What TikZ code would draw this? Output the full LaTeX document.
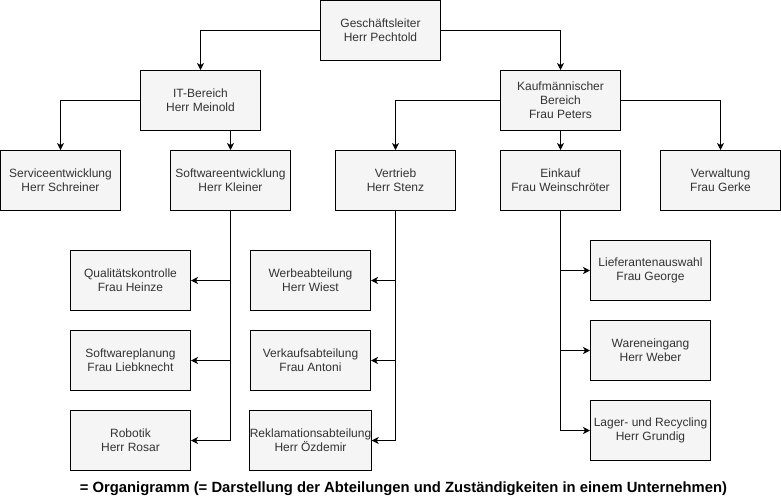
\documentclass[tikz,border=0pt]{standalone}
\usepackage{fontspec}
\setmainfont{Liberation Sans}
\usetikzlibrary{arrows.meta}
\definecolor{boxfill}{HTML}{F5F5F5}
\definecolor{boxtext}{HTML}{333333}
\tikzset{
  box/.style={draw=black, line width=1pt, fill=boxfill, minimum width=120pt, minimum height=60pt,
    inner sep=0pt, align=center, text=boxtext, font=\fontsize{12}{14}\selectfont},
  conn/.style={line width=1pt, -{Stealth[length=7pt,width=7pt,inset=2pt]}}
}
\begin{document}
\begin{tikzpicture}[x=1pt,y=-1pt]
\useasboundingbox (0,0) rectangle (781,499);
\node[box] (gl) at (380.5,30.5) {Geschäftsleiter\\Herr Pechtold};
\node[box] (it) at (200.5,100.5) {IT-Bereich\\Herr Meinold};
\node[box] (kb) at (560.5,100.5) {Kaufmännischer\\Bereich\\Frau Peters};
\node[box] (se) at (60.5,180.5) {Serviceentwicklung\\Herr Schreiner};
\node[box] (sw) at (230.5,180.5) {Softwareentwicklung\\Herr Kleiner};
\node[box] (vt) at (395.5,180.5) {Vertrieb\\Herr Stenz};
\node[box] (ek) at (560.5,180.5) {Einkauf\\Frau Weinschröter};
\node[box] (vw) at (720.5,180.5) {Verwaltung\\Frau Gerke};
\node[box] (qk) at (130.5,280.5) {Qualitätskontrolle\\Frau Heinze};
\node[box] (sp) at (130.5,360.5) {Softwareplanung\\Frau Liebknecht};
\node[box] (rb) at (130.5,440.5) {Robotik\\Herr Rosar};
\node[box] (wb) at (310.5,280.5) {Werbeabteilung\\Herr Wiest};
\node[box] (vk) at (310.5,360.5) {Verkaufsabteilung\\Frau Antoni};
\node[box] (rk) at (310.5,440.5) {Reklamationsabteilung\\Herr Özdemir};
\node[box] (la) at (650.5,270.5) {Lieferantenauswahl\\Frau George};
\node[box] (we) at (650.5,350.5) {Wareneingang\\Herr Weber};
\node[box] (lr) at (650.5,430.5) {Lager- und Recycling\\Herr Grundig};
\draw[conn] (gl.west) -| (it.north);
\draw[conn] (gl.east) -| (kb.north);
\draw[conn] (it.west) -| (se.north);
\draw[conn] (it.south -| sw.north) -- (sw.north);
\draw[conn] (kb.west) -| (vt.north);
\draw[conn] (kb.south) -- (ek.north);
\draw[conn] (kb.east) -| (vw.north);
\draw[conn] (sw.south) |- (qk.east);
\draw[conn] (sw.south) |- (sp.east);
\draw[conn] (sw.south) |- (rb.east);
\draw[conn] (vt.south) |- (wb.east);
\draw[conn] (vt.south) |- (vk.east);
\draw[conn] (vt.south) |- (rk.east);
\draw[conn] (ek.south) |- (la.west);
\draw[conn] (ek.south) |- (we.west);
\draw[conn] (ek.south) |- (lr.west);
\node[font=\fontsize{14.8}{16}\selectfont\bfseries, inner sep=0pt] (cap) at (403.5,489) {= Organigramm (= Darstellung der Abteilungen und Zuständigkeiten in einem Unternehmen)};
\end{tikzpicture}
\end{document}
